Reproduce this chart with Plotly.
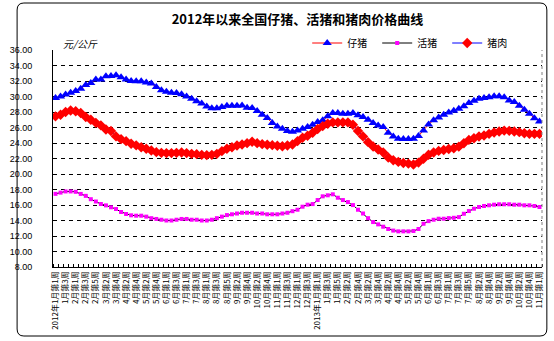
import plotly.graph_objects as go

# Weeks per month, 2012 Jan .. 2013 Nov (first week only in Nov 2013)
WEEKS_2012 = [4, 5, 4, 4, 5, 4, 4, 5, 4, 5, 4, 4]
WEEKS_2013 = [5, 4, 4, 4, 5, 4, 5, 4, 4, 5, 1]

# Weekly prices, 元/公斤
piglet = [29.8, 30.0, 30.25, 30.5, 30.7, 31.0, 31.5, 31.75, 32.2, 32.2,
          32.6, 32.65, 32.75, 32.5, 32.2, 32.0, 31.97, 31.97, 31.8, 31.67,
          31.24, 30.8, 30.6, 30.5, 30.46, 30.3, 30.0, 29.7, 29.4, 29.1,
          28.7, 28.5, 28.5, 28.65, 28.8, 28.8, 28.8, 28.85, 28.55, 28.52,
          28.13, 27.65, 27.22, 26.57, 26.14, 25.84, 25.54, 25.45, 25.62, 25.84,
          26.06, 26.36, 26.7, 26.92, 27.44, 27.87, 27.87, 27.78, 27.78, 27.87,
          27.57, 27.35, 27.0, 26.57, 26.27, 26.06, 25.32, 24.85, 24.54, 24.53,
          24.53, 24.55, 24.9, 25.6, 26.4, 26.95, 27.3, 27.65, 27.95, 28.16,
          28.42, 28.73, 29.16, 29.46, 29.72, 29.81, 29.9, 30.03, 30.03, 29.9,
          29.5, 29.29, 28.81, 28.3, 27.77, 27.2, 26.78]

live_hog = [17.44, 17.6, 17.75, 17.75, 17.7, 17.43, 17.18, 16.75, 16.45, 16.13,
            15.95, 15.7, 15.48, 15.1, 14.84, 14.67, 14.62, 14.62, 14.5, 14.3,
            14.2, 14.1, 14.0, 14.0, 14.1, 14.2, 14.2, 14.1, 14.1, 14.0,
            14.0, 14.1, 14.3, 14.5, 14.7, 14.8, 14.9, 15.0, 15.0, 15.0,
            14.9, 14.9, 14.8, 14.8, 14.8, 14.9, 15.0, 15.2, 15.39, 15.78,
            16.04, 16.12, 16.64, 17.12, 17.25, 17.38, 16.94, 16.64, 16.38, 15.99,
            15.39, 14.9, 14.3, 13.8, 13.5, 13.2, 12.9, 12.7, 12.6, 12.6,
            12.6, 12.65, 12.9, 13.58, 13.92, 14.1, 14.23, 14.23, 14.31, 14.35,
            14.44, 14.87, 15.22, 15.52, 15.74, 15.87, 15.96, 16.04, 16.09, 16.09,
            16.09, 16.04, 16.04, 15.96, 15.96, 15.87, 15.74]

pork = [27.44, 27.65, 28.0, 28.2, 28.1, 27.87, 27.35, 27.0, 26.6, 26.27,
        25.75, 25.54, 24.85, 24.5, 24.24, 23.9, 23.7, 23.46, 23.25, 23.03,
        22.82, 22.73, 22.7, 22.7, 22.73, 22.77, 22.7, 22.6, 22.56, 22.47,
        22.43, 22.47, 22.6, 22.95, 23.25, 23.46, 23.68, 23.8, 23.98, 24.16,
        23.98, 23.85, 23.77, 23.72, 23.64, 23.59, 23.68, 23.81, 24.24, 24.67,
        24.93, 25.32, 25.8, 26.18, 26.49, 26.66, 26.66, 26.66, 26.66, 26.36,
        25.54, 24.85, 24.11, 23.55, 23.16, 22.77, 22.13, 21.78, 21.56, 21.42,
        21.34, 21.23, 21.47, 21.96, 22.48, 22.78, 22.98, 23.1, 23.23, 23.32,
        23.53, 23.97, 24.4, 24.61, 24.83, 24.96, 25.18, 25.35, 25.48, 25.6,
        25.57, 25.48, 25.4, 25.26, 25.18, 25.18, 25.18]

y_ticks = [8, 10, 12, 14, 16, 18, 20, 22, 24, 26, 28, 30, 32, 34, 36]

# Category names: "月第n周", year prefix on the first week of each year
weeks = []
for year, counts in ((2012, WEEKS_2012), (2013, WEEKS_2013)):
    for m, n in enumerate(counts, start=1):
        for w in range(1, n + 1):
            name = f"{m}月第{w}周"
            if m == 1 and w == 1:
                name = f"{year}年" + name
            weeks.append(name)

xs = list(range(len(weeks)))
label_idx = xs[::2]
label_txt = [weeks[i] for i in label_idx]

W, H = 554, 341
ML, MR, MT, MB = 40, 10, 50, 74
PW, PH = W - ML - MR, H - MT - MB

def px(x):
    return (x - ML) / PW

def py(y):
    return (H - MB - y) / PH

CJK = "Noto Sans CJK SC"

fig = go.Figure()
fig.add_trace(go.Scatter(
    x=xs, y=piglet, name="仔猪", mode="lines+markers",
    line=dict(color="#FF0000", width=1),
    marker=dict(symbol="triangle-up", color="#0000FF", size=8)))
fig.add_trace(go.Scatter(
    x=xs, y=live_hog, name="活猪", mode="lines+markers",
    line=dict(color="#000000", width=1),
    marker=dict(symbol="square", color="#FF00FF", size=4)))
fig.add_trace(go.Scatter(
    x=xs, y=pork, name="猪肉", mode="lines+markers",
    line=dict(color="#0000FF", width=1),
    marker=dict(symbol="diamond", color="#FF0000", size=8)))

# rounded chart frame
L, T, R, B, r = 3, 3, 549, 336, 7
frame = (f"M {px(L + r)},{py(T)} L {px(R - r)},{py(T)} "
         f"Q {px(R)},{py(T)} {px(R)},{py(T + r)} "
         f"L {px(R)},{py(B - r)} Q {px(R)},{py(B)} {px(R - r)},{py(B)} "
         f"L {px(L + r)},{py(B)} Q {px(L)},{py(B)} {px(L)},{py(B - r)} "
         f"L {px(L)},{py(T + r)} Q {px(L)},{py(T)} {px(L + r)},{py(T)} Z")

fig.update_layout(
    width=W, height=H,
    margin=dict(l=ML, r=MR, t=MT, b=MB),
    paper_bgcolor="white", plot_bgcolor="white",
    title=dict(text="<b>2012年以来全国仔猪、活猪和猪肉价格曲线</b>",
               x=0.5, xref="paper", xanchor="center",
               y=1 - 19 / H, yanchor="middle",
               font=dict(family=CJK, size=13, color="black")),
    legend=dict(orientation="h", x=px(302), y=py(43), xanchor="left",
                yanchor="middle", entrywidth=25, entrywidthmode="pixels",
                font=dict(family=CJK, size=10, color="black"),
                bgcolor="rgba(0,0,0,0)", itemwidth=30, tracegroupgap=0),
    showlegend=True,
    shapes=[
        dict(type="path", path=frame, xref="paper", yref="paper",
             line=dict(color="black", width=1), layer="below"),
        dict(type="line", xref="paper", yref="paper", x0=1, x1=1, y0=0, y1=1,
             line=dict(color="#808080", width=1, dash="dot")),
    ],
    annotations=[dict(text="元/公斤", xref="paper", yref="paper",
                      x=px(48), y=py(44), xanchor="left", yanchor="middle",
                      showarrow=False,
                      font=dict(family=CJK, size=10, color="black",
                                style="italic"))],
)

fig.update_xaxes(
    range=[-0.5, len(weeks) - 0.5], showgrid=False, zeroline=False,
    showline=True, linecolor="black", linewidth=1,
    tickmode="array", tickvals=label_idx, ticktext=label_txt,
    tickangle=-90, ticks="",
    tickfont=dict(family=CJK, size=8, color="black"),
    minor=dict(tick0=0.5, dtick=1, ticks="inside", ticklen=3,
               tickcolor="black", tickwidth=1, showgrid=False),
)
fig.update_yaxes(
    range=[8, 36], tickmode="array", tickvals=y_ticks,
    ticktext=[f"{v:.2f}" for v in y_ticks],
    showgrid=True, gridcolor="black", gridwidth=1, griddash="4px,4px",
    zeroline=False, showline=True, linecolor="black", linewidth=1,
    ticks="", ticklabelstandoff=18,
    tickfont=dict(family="Liberation Sans", size=9, color="black"),
)

fig.write_html("out.html")
